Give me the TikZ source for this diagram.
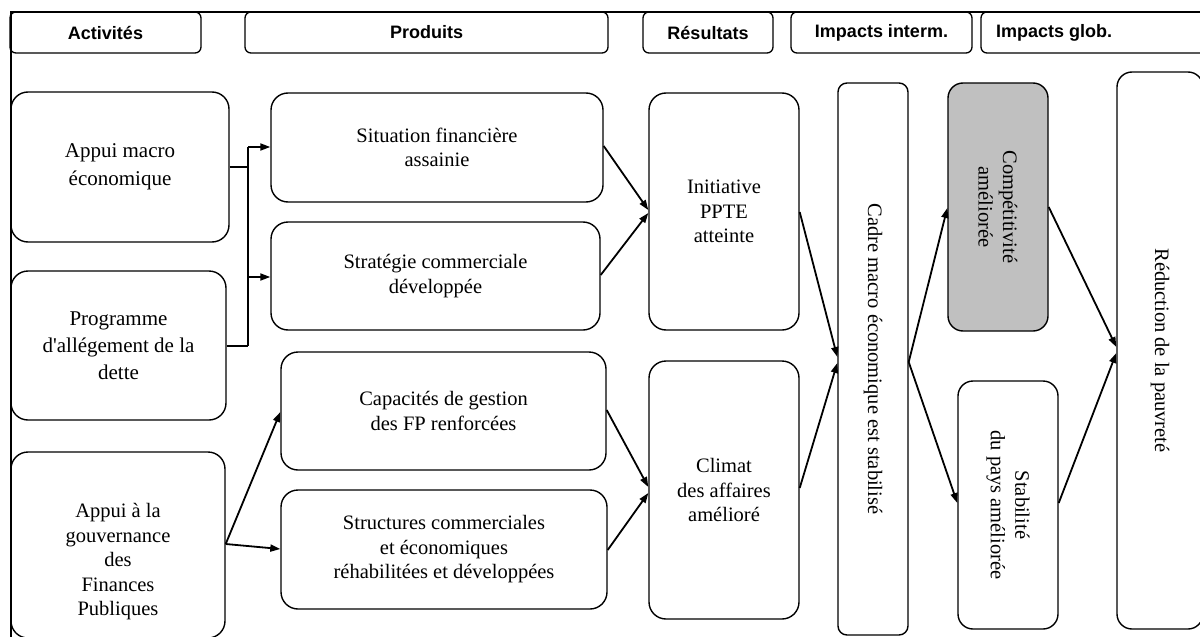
\documentclass[tikz,border=0pt]{standalone}
\usepackage{fontspec}
\setmainfont{Liberation Serif}
\newfontfamily\hdrfont{Liberation Sans}
\usetikzlibrary{arrows.meta,calc}
\definecolor{boxgray}{RGB}{192,192,192}
\tikzset{
  hdr/.style={draw, line width=1.3pt, rounded corners=6pt, minimum height=41pt,
    inner sep=0pt, font=\hdrfont\bfseries\fontsize{18}{21}\selectfont},
  box/.style={draw, line width=1.4pt, rounded corners=17pt, inner sep=0pt,
    align=center, font=\fontsize{20.5}{24.5}\selectfont},
  tallbox/.style={box, rounded corners=9pt},
  txt/.style={inner sep=0pt, align=center, font=\fontsize{20.5}{24.5}\selectfont},
  link/.style={line width=1.8pt},
  arr/.style={line width=1.8pt, -{Triangle[length=10pt,width=7pt]}},
}
\begin{document}
\begin{tikzpicture}[x=1pt, y=-1pt]
\useasboundingbox (0,0) rectangle (1200,637);
\clip (0,0) rectangle (1200,637);

% outer frame (top and left edges)
\draw[line width=2.4pt] (1200,12) -- (11,12) -- (11,640);

% column headers
\node[hdr, minimum width=191pt] (hA) at (105.5,32.5) {Activités};
\node[hdr, minimum width=363pt] (hP) at (426.5,32.5) {Produits};
\node[hdr, minimum width=130pt] (hR) at (708,32.5) {Résultats};
\node[hdr, minimum width=181pt] (hI) at (881.5,32.5) {Impacts interm.};
\node[hdr, minimum width=226pt] (hG) at (1094,32.5) {};
\node[inner sep=0pt, font=\hdrfont\bfseries\fontsize{18}{21}\selectfont] (hGt) at (1054,32.5) {Impacts glob.};

% activities
\node[box, minimum width=218pt, minimum height=150pt, font=\fontsize{21}{28}\selectfont] (appui) at (120,167) {Appui macro\\économique};
\node[box, minimum width=215pt, minimum height=149pt, font=\fontsize{21}{27}\selectfont] (prog) at (118.5,345.5) {Programme\\d\textquotesingle allégement de la\\dette};
\node[box, minimum width=214pt, minimum height=186pt] (gov) at (118,545) {};
\node[txt] (govt) at (118,562) {Appui à la\\gouvernance\\des\\Finances\\Publiques};

% products
\node[box, minimum width=332pt, minimum height=109pt] (sit) at (437,147.5) {Situation financière\\assainie};
\node[box, minimum width=329pt, minimum height=108pt] (strat) at (435.5,276) {Stratégie commerciale\\développée};
\node[box, minimum width=325pt, minimum height=118pt] (cap) at (443.5,411) {Capacités de gestion\\des FP renforcées};
\node[box, minimum width=326pt, minimum height=119pt] (struc) at (444,549.5) {Structures commerciales\\et économiques\\réhabilitées et développées};

% results
\node[box, minimum width=150pt, minimum height=237pt] (init) at (724,211.5) {Initiative\\PPTE\\atteinte};
\node[box, minimum width=150pt, minimum height=258pt] (clim) at (724,490) {Climat\\des affaires\\amélioré};

% impacts
\node[tallbox, minimum width=70pt, minimum height=552pt] (cadre) at (873,359) {};
\node[txt, rotate=-90] (cadret) at (cadre.center) {Cadre macro économique est stabilisé};
\node[box, fill=boxgray, rounded corners=15pt, minimum width=100pt, minimum height=248pt] (comp) at (998,207) {};
\node[txt, rotate=-90] (compt) at (comp.center) {Compétitivité\\améliorée};
\node[box, rounded corners=15pt, minimum width=100pt, minimum height=248pt] (stab) at (1008,505) {};
\node[txt, rotate=-90] (stabt) at (stab.center) {Stabilité\\du pays améliorée};
\node[box, rounded corners=15pt, minimum width=86pt, minimum height=557pt] (red) at (1160,350.5) {};
\node[txt, rotate=-90] (redt) at (red.center) {Réduction de la pauvreté};

% activities -> products
\coordinate (busT) at (248,147);
\coordinate (busB) at (248,346);
\draw[link] (appui.east |- 0,167) -- (busT |- 0,167);
\draw[link] (prog.east |- 0,346) -- (busB);
\draw[link] (busT) -- (busB);
\draw[arr] (busT) -- (sit.west |- busT);
\draw[arr] (busT |- 0,277) -- (strat.west |- 0,277);
\coordinate (gv) at (gov.east |- 0,544);
\draw[arr] (gv) -- (cap.west |- 0,412);
\draw[arr] (gv) -- (struc.west |- 0,549);

% products -> results
\draw[arr] (sit.east |- 0,146) -- (init.west |- 0,210);
\draw[arr] (strat.east |- 0,275) -- (init.west |- 0,213);
\draw[arr] (cap.east |- 0,410) -- (clim.west |- 0,487);
\draw[arr] (struc.east |- 0,550) -- (clim.west |- 0,493);

% results -> intermediate impacts
\draw[arr] (init.east |- 0,212) -- (cadre.west |- 0,357);
\draw[arr] (clim.east |- 0,488) -- (cadre.west |- 0,363);
\draw[arr] (cadre.east |- 0,362) -- (comp.west |- 0,208);
\draw[arr] (cadre.east |- 0,362) -- (stab.west |- 0,503);

% intermediate -> global impact
\draw[arr] (comp.east |- 0,207) -- (red.west |- 0,347);
\draw[arr] (stab.east |- 0,503) -- (red.west |- 0,353);
\end{tikzpicture}
\end{document}
